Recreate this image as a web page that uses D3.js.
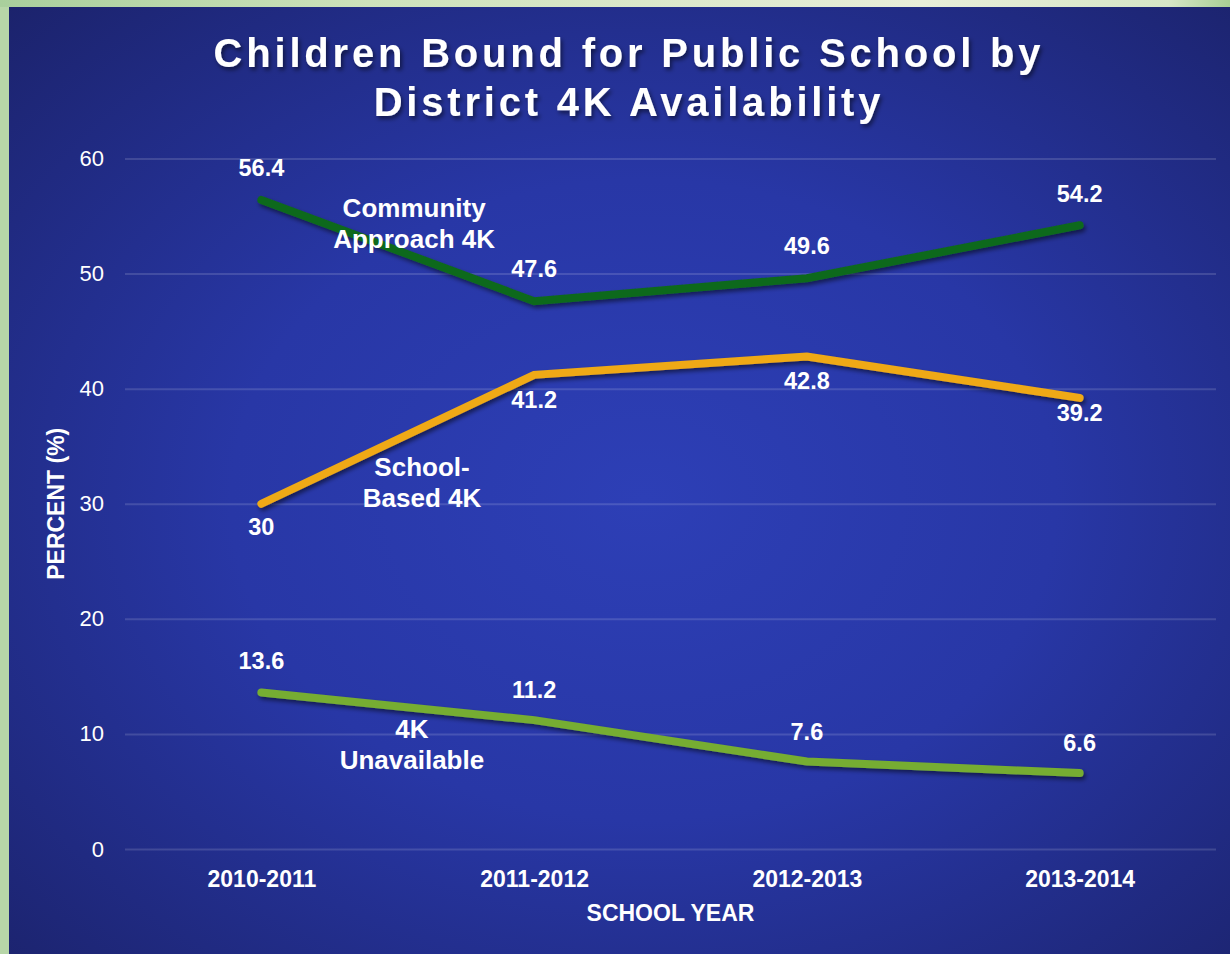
<!DOCTYPE html>
<html>
<head>
<meta charset="utf-8">
<script src="https://cdn.jsdelivr.net/npm/d3@7/dist/d3.min.js"></script>
<style>
  body { margin: 0; background: #b7d6a8; }
  svg { display: block; }
  text { font-family: "Liberation Sans", Arial, sans-serif; fill: #fff; }
</style>
</head>
<body>
<svg id="chart"></svg>
<script>
// dados
var years = ["2010-2011", "2011-2012", "2012-2013", "2013-2014"];
var communityApproach = [56.4, 47.6, 49.6, 54.2];
var schoolBased = [30, 41.2, 42.8, 39.2];
var unavailable4K = [13.6, 11.2, 7.6, 6.6];
var yTicks = [0, 10, 20, 30, 40, 50, 60];
var titleLines = ["Children Bound for Public School by", "District 4K Availability"];
var seriesNames = [["Community", "Approach 4K"], ["School-", "Based 4K"], ["4K", "Unavailable"]];

(function () {
  'use strict';

  var width = 1230, height = 954;
  var plot = { left: 125, right: 1216, top: 158.5, bottom: 849 };

  var series = [
    { name: seriesNames[0], values: communityApproach, color: "#10691f", labelDy: [-32, -32, -32, -31], note: { at: 0.56, v: 54.96 } },
    { name: seriesNames[1], values: schoolBased, color: "#efa916", labelDy: [23, 25, 25, 15], note: { at: 0.589, v: 32.43 } },
    { name: seriesNames[2], values: unavailable4K, color: "#76ad33", labelDy: [-31, -30, -30, -30], note: { at: 0.552, v: 9.65 } }
  ];

  var svg = d3.select("#chart")
    .attr("width", width)
    .attr("height", height);

  var defs = svg.append("defs");

  // fundo azul com brilho no centro
  var bg = defs.append("radialGradient")
    .attr("id", "bg")
    .attr("cx", "52%").attr("cy", "52%").attr("r", "75%");
  bg.append("stop").attr("offset", "0%").attr("stop-color", "#2d3fb6");
  bg.append("stop").attr("offset", "45%").attr("stop-color", "#2837a6");
  bg.append("stop").attr("offset", "100%").attr("stop-color", "#1b226a");

  var strip = defs.append("linearGradient").attr("id", "strip");
  strip.append("stop").attr("offset", "0%").attr("stop-color", "#a9cf9c");
  strip.append("stop").attr("offset", "30%").attr("stop-color", "#cde2bb");
  strip.append("stop").attr("offset", "75%").attr("stop-color", "#e8eed9");
  strip.append("stop").attr("offset", "95%").attr("stop-color", "#d6e6c6");
  strip.append("stop").attr("offset", "100%").attr("stop-color", "#a8cf94");

  var shadow = defs.append("filter").attr("id", "shadow")
    .attr("x", "-10%").attr("y", "-20%").attr("width", "120%").attr("height", "140%");
  shadow.append("feDropShadow")
    .attr("dx", 2).attr("dy", 3).attr("stdDeviation", 2)
    .attr("flood-color", "#000").attr("flood-opacity", 0.5);

  svg.append("rect").attr("width", width).attr("height", height).attr("fill", "#b7d6a8");
  svg.append("rect").attr("width", width).attr("height", 7).attr("fill", "url(#strip)");
  svg.append("rect")
    .attr("x", 9).attr("y", 7)
    .attr("width", width - 9).attr("height", height - 7)
    .attr("fill", "url(#bg)");

  // titulo
  svg.append("g")
    .attr("filter", "url(#shadow)")
    .selectAll("text")
    .data(titleLines)
    .join("text")
    .attr("x", 629)
    .attr("y", function (d, i) { return 67 + i * 49; })
    .attr("text-anchor", "middle")
    .style("font-size", "40px")
    .style("font-weight", "bold")
    .style("letter-spacing", "3.8px")
    .text(function (d) { return d; });

  // escalas
  var x = d3.scalePoint()
    .domain(years)
    .range([plot.left, plot.right])
    .padding(0.5);

  var y = d3.scaleLinear()
    .domain([0, 60])
    .range([plot.bottom, plot.top]);

  // eixo y com linhas de grade
  var yAxis = svg.append("g")
    .attr("transform", "translate(" + plot.left + ",0)")
    .call(d3.axisLeft(y).tickValues(yTicks).tickSize(-(plot.right - plot.left)).tickPadding(21));
  yAxis.select(".domain").remove();
  yAxis.selectAll(".tick line")
    .attr("stroke", "#ffffff")
    .attr("stroke-opacity", 0.14)
    .attr("stroke-width", 2);
  yAxis.selectAll(".tick text")
    .attr("fill", "#fff")
    .style("font-size", "22px")
    .style("font-family", '"Liberation Sans", Arial, sans-serif');

  // eixo x
  var xAxis = svg.append("g")
    .attr("transform", "translate(0," + plot.bottom + ")")
    .call(d3.axisBottom(x).tickSize(0).tickPadding(22));
  xAxis.select(".domain").remove();
  xAxis.selectAll(".tick text")
    .attr("fill", "#fff")
    .style("font-size", "23px")
    .style("font-weight", "bold")
    .style("font-family", '"Liberation Sans", Arial, sans-serif');

  // titulos dos eixos
  svg.append("text")
    .attr("x", (plot.left + plot.right) / 2)
    .attr("y", 921)
    .attr("text-anchor", "middle")
    .style("font-size", "23px")
    .style("font-weight", "bold")
    .text("SCHOOL YEAR");

  svg.append("text")
    .attr("transform", "translate(64," + (plot.top + plot.bottom) / 2 + ") rotate(-90)")
    .attr("text-anchor", "middle")
    .style("font-size", "23px")
    .style("font-weight", "bold")
    .text("PERCENT (%)");

  // linhas das series
  var line = d3.line()
    .x(function (d, i) { return x(years[i]); })
    .y(function (d) { return y(d); });

  svg.append("g")
    .attr("filter", "url(#shadow)")
    .selectAll("path")
    .data(series)
    .join("path")
    .attr("d", function (s) { return line(s.values); })
    .attr("fill", "none")
    .attr("stroke", function (s) { return s.color; })
    .attr("stroke-width", 8)
    .attr("stroke-linecap", "round")
    .attr("stroke-linejoin", "miter");

  // rotulos de valores
  series.forEach(function (s) {
    svg.append("g")
      .selectAll("text")
      .data(s.values)
      .join("text")
      .attr("x", function (d, i) { return x(years[i]); })
      .attr("y", function (d, i) { return y(d) + s.labelDy[i]; })
      .attr("text-anchor", "middle")
      .attr("dominant-baseline", "central")
      .style("font-size", "23.5px")
      .style("font-weight", "bold")
      .text(function (d) { return d; });

    // nome da serie junto da linha
    svg.append("text")
      .attr("x", x(years[0]) + s.note.at * x.step())
      .attr("y", y(s.note.v))
      .attr("text-anchor", "middle")
      .style("font-size", "26px")
      .style("font-weight", "bold")
      .selectAll("tspan")
      .data(s.name)
      .join("tspan")
      .attr("x", x(years[0]) + s.note.at * x.step())
      .attr("dy", function (d, i) { return i === 0 ? 0 : 31; })
      .text(function (d) { return d; });
  });

}());
</script>
</body>
</html>
